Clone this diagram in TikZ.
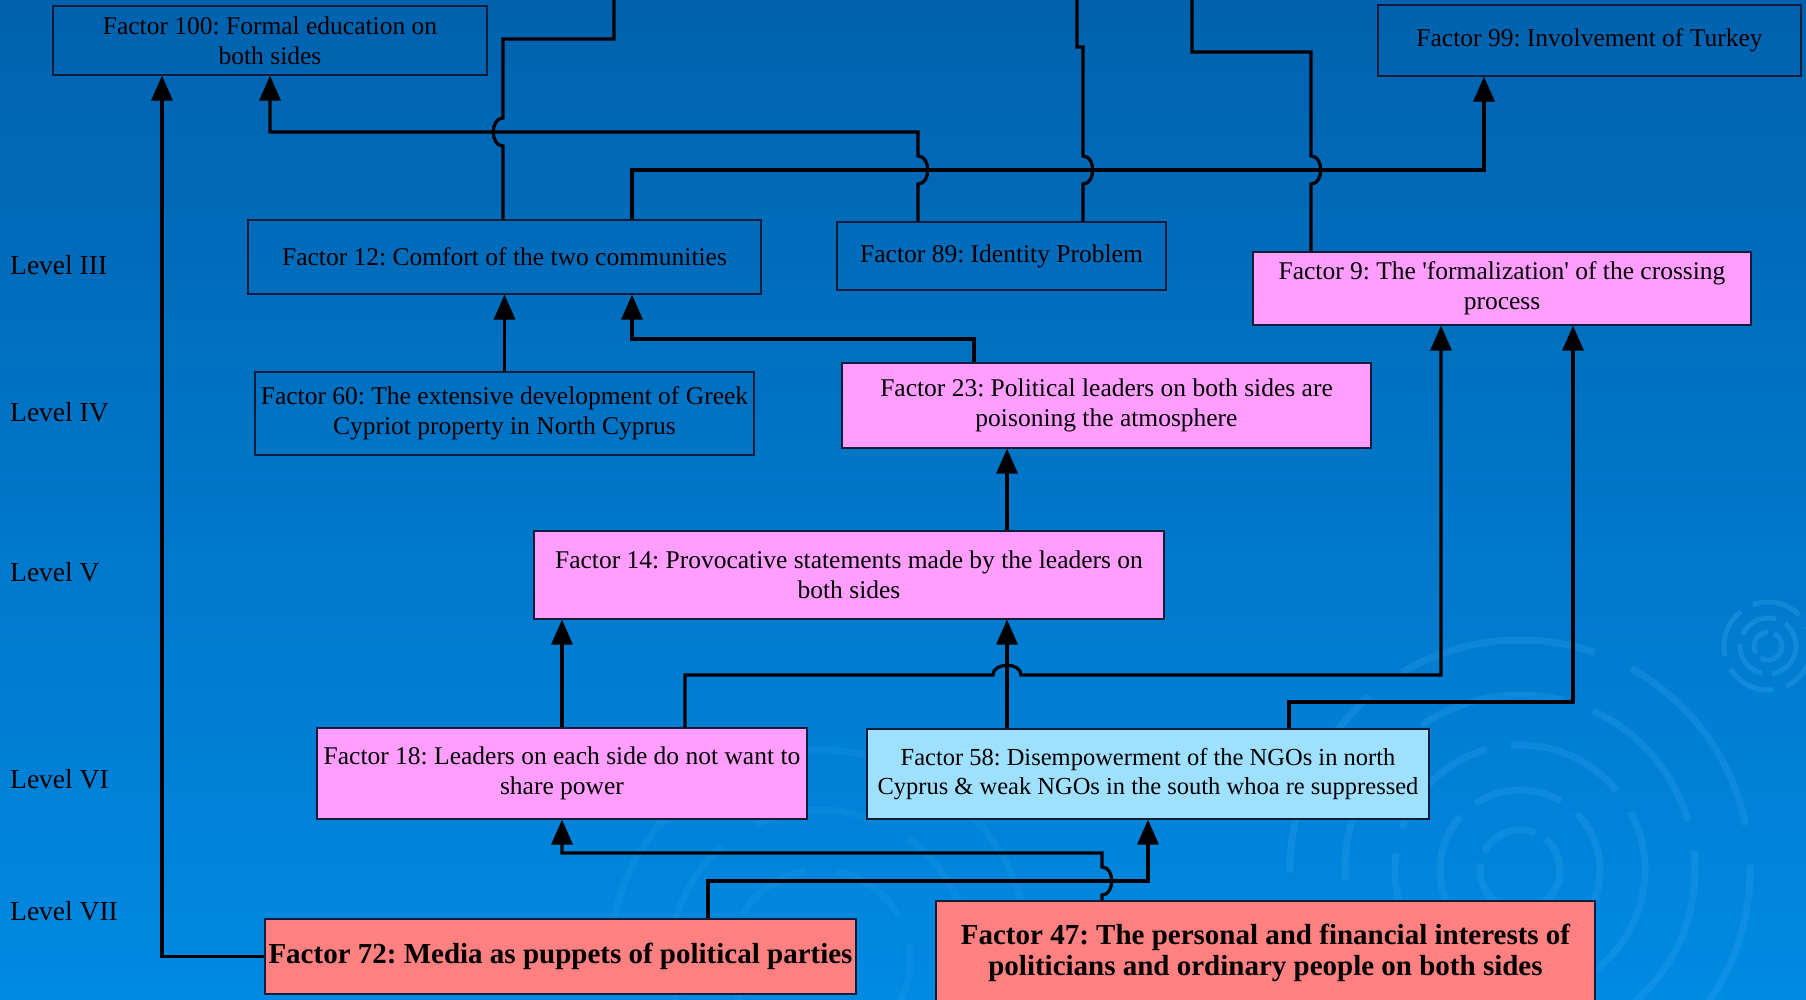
\documentclass[tikz,border=0pt]{standalone}
\usepackage{fontspec}
\setmainfont{Liberation Serif}
\usetikzlibrary{arrows.meta}
\definecolor{bgtop}{RGB}{0,98,174}
\definecolor{bgbot}{RGB}{0,138,226}
\definecolor{pinkbox}{RGB}{255,158,255}
\definecolor{bluebox}{RGB}{160,224,255}
\definecolor{salmonbox}{RGB}{255,128,128}
\definecolor{boxline}{RGB}{20,28,60}
\definecolor{ripple}{RGB}{60,170,245}
\newcommand{\normtxt}{\frenchspacing\fontsize{25.5}{30}\selectfont}
\newcommand{\smalltxt}{\frenchspacing\fontsize{24.5}{29}\selectfont}
\newcommand{\boldtxt}{\frenchspacing\fontsize{29}{31.5}\selectfont\bfseries}
\tikzset{
  box/.style={draw=boxline, line width=1.2pt, inner sep=0pt, align=center, font=\normtxt, text=black},
  pinkb/.style={box, fill=pinkbox},
  blueb/.style={box, fill=bluebox},
  salb/.style={box, fill=salmonbox, font=\boldtxt},
  lvl/.style={anchor=west, inner sep=0pt, font=\frenchspacing\fontsize{27.5}{30}\selectfont, text=black},
  conn/.style={line width=3.2pt, draw=black, line join=miter},
  arr/.style={conn, -{Triangle[width=21pt,length=25pt]}},
  rip/.style={draw=ripple, opacity=0.22, line width=7pt}
}
\begin{document}
\begin{tikzpicture}[x=1pt,y=-1pt]
\clip (0,0) rectangle (1806,999);
\shade[top color=bgtop, bottom color=bgbot] (0,0) rectangle (1806,999);
% background ripples
\draw[rip, dash pattern=on 60pt off 12pt] (1520,870) circle (40);
\draw[rip, dash pattern=on 90pt off 20pt] (1520,870) circle (80);
\draw[rip, dash pattern=on 120pt off 25pt] (1520,870) circle (125);
\draw[rip, dash pattern=on 150pt off 30pt] (1520,870) circle (175);
\draw[rip, dash pattern=on 200pt off 40pt] (1520,870) circle (230);
\draw[rip, opacity=0.3, line width=5pt, dash pattern=on 30pt off 6pt] (1768,646) circle (14);
\draw[rip, opacity=0.3, line width=5pt, dash pattern=on 40pt off 10pt] (1768,646) circle (28);
\draw[rip, opacity=0.3, line width=5pt, dash pattern=on 50pt off 14pt] (1768,646) circle (44);
\draw[rip, opacity=0.15, dash pattern=on 80pt off 30pt] (820,960) circle (90);
\draw[rip, opacity=0.15, dash pattern=on 120pt off 40pt] (820,960) circle (150);
\draw[rip, opacity=0.15, dash pattern=on 160pt off 60pt] (820,960) circle (210);

% level labels
\node[lvl] (l3) at (10,265) {Level III};
\node[lvl] (l4) at (10,412) {Level IV};
\node[lvl] (l5) at (10,572) {Level V};
\node[lvl] (l6) at (10,779) {Level VI};
\node[lvl] (l7) at (10,911) {Level VII};

% nodes
\node[box, minimum width=434pt, minimum height=69pt] (f100) at (270,40.5) {Factor 100: Formal education on\\both sides};
\node[box, minimum width=423pt, minimum height=71pt] (f99) at (1589.5,40.5) {Factor 99: Involvement of Turkey};
\node[box, minimum width=513pt, minimum height=74pt] (f12) at (504.5,257) {Factor 12: Comfort of the two communities};
\node[box, minimum width=329pt, minimum height=68pt] (f89) at (1001.5,256) {Factor 89: Identity Problem};
\node[pinkb, minimum width=498pt, minimum height=73pt] (f9) at (1502,288.5) {Factor 9: The \textquotesingle formalization\textquotesingle{} of the crossing\\process};
\node[box, minimum width=499pt, minimum height=83pt] (f60) at (504.5,413.5) {Factor 60: The extensive development of Greek\\Cypriot property in North Cyprus};
\node[pinkb, minimum width=529pt, minimum height=85pt] (f23) at (1106.5,405.5) {Factor 23: Political leaders on both sides are\\poisoning the atmosphere};
\node[pinkb, minimum width=630pt, minimum height=88pt] (f14) at (849,575) {Factor 14: Provocative statements made by the leaders on\\both sides};
\node[pinkb, minimum width=490pt, minimum height=91pt] (f18) at (562,773.5) {Factor 18: Leaders on each side do not want to\\share power};
\node[blueb, font=\smalltxt, minimum width=562pt, minimum height=90pt] (f58) at (1148,774) {Factor 58: Disempowerment of the NGOs in north\\Cyprus \& weak NGOs in the south whoa re suppressed};
\node[salb, minimum width=591pt, minimum height=75pt] (f72) at (560.5,956.5) {Factor 72: Media as puppets of political parties};
\node[salb, minimum width=659pt, minimum height=104pt] (f47) at (1265.5,953) {Factor 47: The personal and financial interests of\\politicians and ordinary people on both sides};

% free ends at the top edge
\coordinate (t1) at (614,-3);
\coordinate (t2) at (1077,-3);
\coordinate (t3) at (1192,-3);

% connectors
\draw[conn] (f12.north -| 503,0) -- (503,146) .. controls (490,146) and (490,118) .. (503,118) -- (503,39) -- (614,39) -- (t1);
\draw[arr] (f12.north -| 632,0) -- (632,170) -- (1484,170) -- (f99.south -| 1484,0);
\draw[arr] (f89.north -| 918,0) -- (918,184) .. controls (931,184) and (931,156) .. (918,156) -- (918,132) -- (270,132) -- (f100.south);
\draw[conn] (f89.north -| 1083,0) -- (1083,184) .. controls (1096,184) and (1096,156) .. (1083,156) -- (1083,47) -- (1077,47) -- (t2);
\draw[conn] (f9.north -| 1311,0) -- (1311,184) .. controls (1324,184) and (1324,156) .. (1311,156) -- (1311,52) -- (1192,52) -- (t3);
\draw[arr] (f72.west) -- (f72.west -| 162,0) -- (f100.south -| 162,0);
\draw[arr] (f60.north) -- (f12.south);
\draw[arr] (f23.north -| 974,0) -- (974,339) -- (632,339) -- (f12.south -| 632,0);
\draw[arr] (f14.north -| 1007,0) -- (f23.south -| 1007,0);
\draw[arr] (f18.north) -- (f14.south -| 562,0);
\draw[arr] (f18.north -| 685,0) -- (685,675) -- (993,675) .. controls (993,662) and (1021,662) .. (1021,675) -- (1441,675) -- (f9.south -| 1441,0);
\draw[arr] (f58.north -| 1007,0) -- (f14.south -| 1007,0);
\draw[arr] (f58.north -| 1289,0) -- (1289,702) -- (1573,702) -- (f9.south -| 1573,0);
\draw[arr] (f47.north -| 1102,0) -- (1102,895) .. controls (1115,895) and (1115,867) .. (1102,867) -- (1102,853) -- (562,853) -- (f18.south);
\draw[arr] (f72.north -| 708,0) -- (708,881) -- (1148,881) -- (f58.south);
\end{tikzpicture}
\end{document}
